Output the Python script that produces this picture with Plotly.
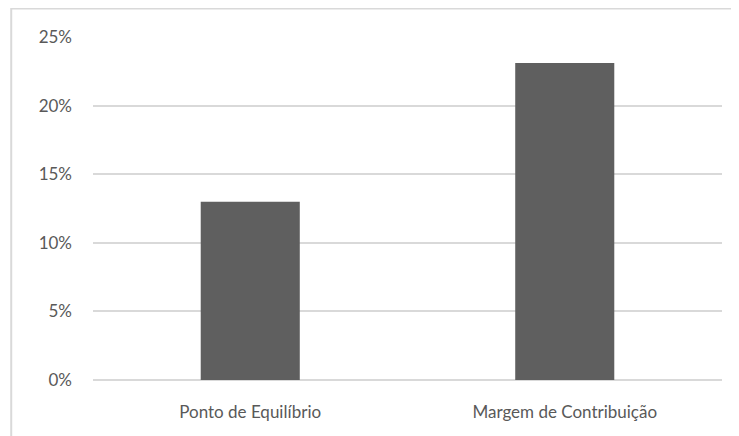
import plotly.graph_objects as go

categories = ["Ponto de Equilíbrio", "Margem de Contribuição"]
values = [0.13, 0.231]
y_ticks = [0, 0.05, 0.10, 0.15, 0.20, 0.25]

fig = go.Figure(data=[go.Bar(x=categories, y=values, marker_color="#5f5f5f", marker_line_width=0)])

# the page body adds an 8px margin, so margins here are shifted by 8
fig.update_layout(
    width=739, height=436,
    margin=dict(l=85, r=25, t=29, b=64),
    paper_bgcolor="white", plot_bgcolor="white",
    bargap=0.685,
    showlegend=False,
    font=dict(family="Lato", size=17, color="#595959"),
    shapes=[dict(type="rect", xref="paper", yref="paper",
                 x0=-0.13, x1=1.2, y0=-0.4, y1=1.083,
                 line=dict(color="#d9d9d9", width=2), layer="below")],
)
fig.update_xaxes(showline=False, showgrid=False, ticks="", ticklabelstandoff=20)
fig.update_yaxes(range=[0, 0.25], tickvals=y_ticks, tickformat=".0%",
                 showgrid=True, gridcolor="#d9d9d9", gridwidth=1.5,
                 zeroline=True, zerolinecolor="#d9d9d9", zerolinewidth=1.5,
                 showline=False, ticks="", ticklabelstandoff=20)

fig.write_html("out.html")
